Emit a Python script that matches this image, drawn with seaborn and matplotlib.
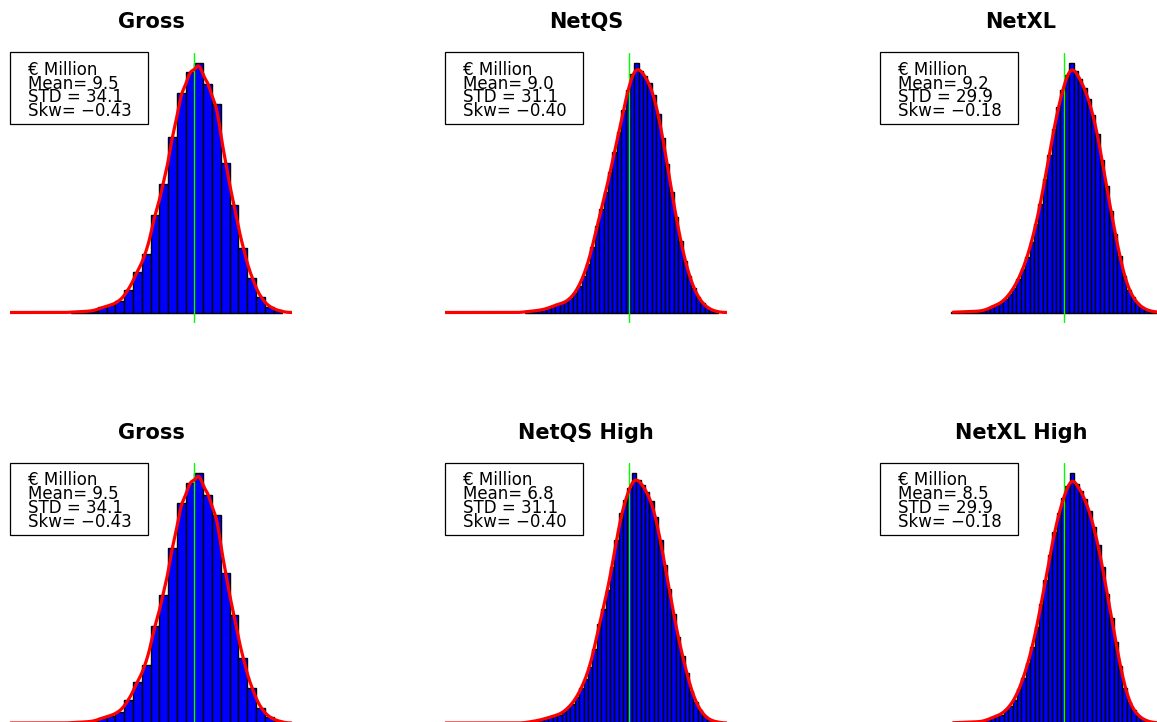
import numpy as np
import pandas as pd
import seaborn as sns
import matplotlib.pyplot as plt
from matplotlib.patches import Rectangle

# panel info, left to right, top row then bottom row
titles = ["Gross", "NetQS", "NetXL", "Gross", "NetQS High", "NetXL High"]
means = [9.5, 9.0, 9.2, 9.5, 6.8, 8.5]
stds = [34.1, 31.1, 29.9, 34.1, 31.1, 29.9]
skews = [-0.43, -0.40, -0.18, -0.43, -0.40, -0.18]

# histogram frequencies (left to right)
gross_counts = [2, 3, 5, 15, 22, 34, 67, 122, 174, 290, 382, 522, 654, 715,
                744, 679, 620, 446, 320, 192, 104, 45, 17, 6]
netqs_counts = [3, 4, 5, 7, 9, 13, 20, 24, 27, 31, 42, 57, 79, 110, 146,
                196, 260, 310, 360, 420, 480, 540, 605, 665, 715, 748, 722,
                708, 686, 650, 595, 522, 445, 360, 285, 215, 155, 108, 72,
                45, 27, 15, 7, 4]
netxl_counts = [1, 1, 2, 2, 3, 3, 4, 5, 10, 18, 23, 27, 40, 56, 74, 100, 130,
                165, 212, 265, 325, 400, 470, 550, 615, 665, 712, 748, 722,
                698, 672, 638, 590, 535, 455, 378, 305, 235, 168, 110, 68, 45,
                27, 15, 8, 4, 2]
netqs_high_counts = [3, 5, 7, 10, 14, 18, 22, 25, 32, 45, 58, 76, 103, 132,
                     167, 220, 295, 340, 395, 465, 545, 625, 665, 700, 745,
                     725, 708, 688, 662, 615, 545, 472, 400, 325, 255, 200,
                     150, 95, 62, 38, 20, 10, 5, 3]
netxl_high_counts = [1, 1, 2, 2, 3, 3, 4, 5, 11, 17, 22, 25, 38, 52, 70, 100,
                     135, 178, 225, 285, 355, 425, 500, 570, 625, 670, 705,
                     745, 712, 692, 668, 632, 585, 530, 465, 385, 312, 240,
                     170, 105, 62, 38, 22, 12, 6, 2, 1]

counts = [gross_counts, netqs_counts, netxl_counts,
          gross_counts, netqs_high_counts, netxl_high_counts]
bin_start = [-130, -110, -120, -130, -110, -120]
bin_width = [10, 5, 5, 10, 5, 5]
# where the density curve starts (None = left edge of the panel)
kde_from = [None, None, -117, None, None, -117.5]

sns.set_style("white")
plt.rcParams["font.family"] = ["DejaVu Sans"]
plt.rcParams["text.color"] = "black"

W, H = 1157, 722
fig = plt.figure(figsize=(W / 100, H / 100), dpi=100)
lefts = [10, 445, 880]
tops = [52.5, 463]

for i in range(6):
    r, c = divmod(i, 3)
    ax = fig.add_axes([lefts[c] / W, (H - tops[r] - 270) / H, 282 / W, 270 / H])
    n = len(counts[i])
    lo_edge = bin_start[i]
    hi_edge = bin_start[i] + n * bin_width[i]
    centers = lo_edge + bin_width[i] * (np.arange(n) + 0.5)
    df = pd.DataFrame({"x": centers, "freq": counts[i]})

    sns.histplot(data=df, x="x", weights="freq", bins=n,
                 binrange=(lo_edge, hi_edge), stat="density",
                 color="#0000ff", edgecolor="black", linewidth=1.0, alpha=1, ax=ax)
    ax.axvline(means[i], color="#00ff00", lw=1)

    xlim = (means[i] - 209.5, means[i] + 111.5)
    lo = xlim[0] if kde_from[i] is None else kde_from[i]
    sns.kdeplot(data=df, x="x", weights="freq", bw_method=0.16, cut=40,
                clip=(lo, xlim[1] + 5), gridsize=600, color="red", lw=2.3,
                solid_capstyle="round", ax=ax)

    dmax = max(counts[i]) / (sum(counts[i]) * bin_width[i])
    ax.set_xlim(xlim)
    ax.set_ylim(-0.04 * dmax, 1.04 * dmax)
    ax.axis("off")

    ax.text(0.5, 1.09, titles[i], transform=ax.transAxes, ha="center",
            va="baseline", fontsize=15, fontweight="bold", clip_on=False)

    # legend-like box in the top left corner
    ax.add_patch(Rectangle((0, 0.735), 0.489, 0.265, transform=ax.transAxes,
                           facecolor="white", edgecolor="black", lw=0.9,
                           zorder=5, clip_on=False))
    lines = ["\u20ac Million",
             f"Mean= {means[i]:.1f}",
             f"STD = {stds[i]:.1f}",
             f"Skw= \u2212{abs(skews[i]):.2f}"]
    for k, txt in enumerate(lines):
        ax.text(0.064, 0.918 - k * 0.0515, txt, transform=ax.transAxes,
                ha="left", va="baseline", fontsize=12, zorder=6)

fig.savefig("out.png", dpi=100)
